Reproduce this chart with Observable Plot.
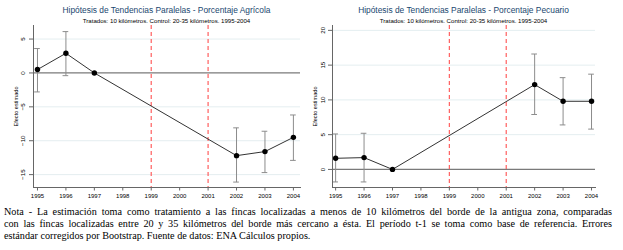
<!DOCTYPE html>
<html><head><meta charset="utf-8">
<script src="https://cdn.jsdelivr.net/npm/d3@7"></script>
<script src="https://cdn.jsdelivr.net/npm/@observablehq/plot@0.6"></script>
<style>
html,body{margin:0;padding:0;background:#fff}
body{width:623px;height:250px;overflow:hidden;position:relative;font-family:"Liberation Sans",Arial,sans-serif}
.panel{position:absolute;top:0}
.title{position:absolute;top:5px;text-align:center;color:#1a476f;font-size:8.4px;white-space:nowrap;line-height:10px}
.sub{position:absolute;top:17px;text-align:center;color:#000;font-size:6.1px;white-space:nowrap;line-height:7px}
.note{position:absolute;left:4px;top:206px;width:608px;font-family:"Liberation Serif","Times New Roman",serif;font-size:10.2px;line-height:12px;color:#000}
.note div{text-align:justify;text-align-last:justify;white-space:nowrap}
.note div.last{text-align-last:left}
</style>
</head><body>
<div id="left" class="panel" style="left:0"></div>
<div id="right" class="panel" style="left:310px"></div>
<div class="title" style="left:33px;width:267px">Hipótesis de Tendencias Paralelas - Porcentaje Agrícola</div>
<div class="sub" style="left:33px;width:267px">Tratados: 10 kilómetros. Control: 20-35 kilómetros. 1995-2004</div>
<div class="title" style="left:332px;width:263px">Hipótesis de Tendencias Paralelas - Porcentaje Pecuario</div>
<div class="sub" style="left:332px;width:263px">Tratados: 10 kilómetros. Control: 20-35 kilómetros. 1995-2004</div>
<div class="note">
<div>Nota - La estimación toma como tratamiento a las fincas localizadas a menos de 10 kilómetros del borde de la antigua zona, comparadas</div>
<div>con las fincas localizadas entre 20 y 35 kilómetros del borde más cercano a ésta. El período t-1 se toma como base de referencia. Errores</div>
<div class="last">estándar corregidos por Bootstrap. Fuente de datos: ENA Cálculos propios.</div>
</div>
<script>
const years = [1995,1996,1997,1998,1999,2000,2001,2002,2003,2004];
const estYears = [1995,1996,1997,2002,2003,2004];
const agriEst = [0.5, 2.9, 0, -12.2, -11.6, -9.5];
const agriLo  = [-2.8, -0.4, null, -16.1, -14.7, -12.9];
const agriHi  = [3.6, 6.1, null, -8.1, -8.6, -6.2];
const pecEst  = [1.6, 1.7, 0, 12.2, 9.8, 9.8];
const pecLo   = [-1.8, -1.8, null, 7.9, 6.4, 5.8];
const pecHi   = [5.1, 5.2, null, 16.6, 13.2, 13.7];
const treatYears = [1999, 2001];
const agriTicks = [5, 0, -5, -10, -15];
const pecTicks = [0, 5, 10, 15, 20];
const yLabel = "Efecto estimado";

function panel({est, lo, hi, yDomain, yTicks, xDomain, width, marginLeft, marginRight, labelOffset, yPad}) {
  const rows = estYears.map((y, i) => ({year: y, est: est[i], lo: lo[i], hi: hi[i]}));
  const ci = rows.filter(d => d.lo != null);
  const cap = 0.1;
  return Plot.plot({
    width, height: 205, marginTop: 25, marginBottom: 18, marginLeft, marginRight,
    x: {domain: xDomain},
    y: {domain: yDomain},
    style: {fontFamily: "Liberation Sans, Arial, sans-serif", background: "white", color: "#000"},
    marks: [
      Plot.ruleY(yTicks.filter(t => t !== 0), {stroke: "#e4eef0", strokeWidth: 1}),
      Plot.ruleY([0], {stroke: "#7a7a7a", strokeWidth: 1.3}),
      Plot.ruleX(treatYears, {stroke: "#ff5f5f", strokeDasharray: "4,3", strokeWidth: 1.2}),
      Plot.link(ci, {x1: "year", x2: "year", y1: "lo", y2: "hi", stroke: "#8c8c8c", strokeWidth: 1}),
      Plot.ruleY(ci, {x1: d => d.year - cap, x2: d => d.year + cap, y: "lo", stroke: "#8c8c8c", strokeWidth: 1}),
      Plot.ruleY(ci, {x1: d => d.year - cap, x2: d => d.year + cap, y: "hi", stroke: "#8c8c8c", strokeWidth: 1}),
      Plot.line(rows, {x: "year", y: "est", stroke: "#333", strokeWidth: 1}),
      Plot.dot(rows, {x: "year", y: "est", r: 2.7, fill: "#000", stroke: "none"}),
      Plot.axisX({ticks: years, tickFormat: "d", tickSize: 3.5, tickPadding: 3, fontSize: 6, label: null, stroke: "#666"}),
      Plot.axisY({ticks: yTicks, tickSize: 4, tickPadding: yPad, tickRotate: -90, fontSize: 6.2, label: null, stroke: "#666"}),
      Plot.axisY({ticks: [], label: yLabel, labelArrow: "none", labelAnchor: "center", labelOffset, fontSize: 5.6}),
      Plot.frame({anchor: "left", stroke: "#666"}),
      Plot.frame({anchor: "bottom", stroke: "#666"})
    ]
  });
}

document.getElementById("left").append(panel({
  est: agriEst, lo: agriLo, hi: agriHi, yDomain: [-16.9, 7], yTicks: agriTicks,
  xDomain: [1994.86, 2004.25], width: 310, marginLeft: 33, marginRight: 10, labelOffset: 19.5, yPad: 5
}));
document.getElementById("right").append(panel({
  est: pecEst, lo: pecLo, hi: pecHi, yDomain: [-2.6, 20.7], yTicks: pecTicks,
  xDomain: [1994.89, 2004.14], width: 313, marginLeft: 22, marginRight: 28, labelOffset: 19.5, yPad: 3.2
}));
</script>
</body></html>
